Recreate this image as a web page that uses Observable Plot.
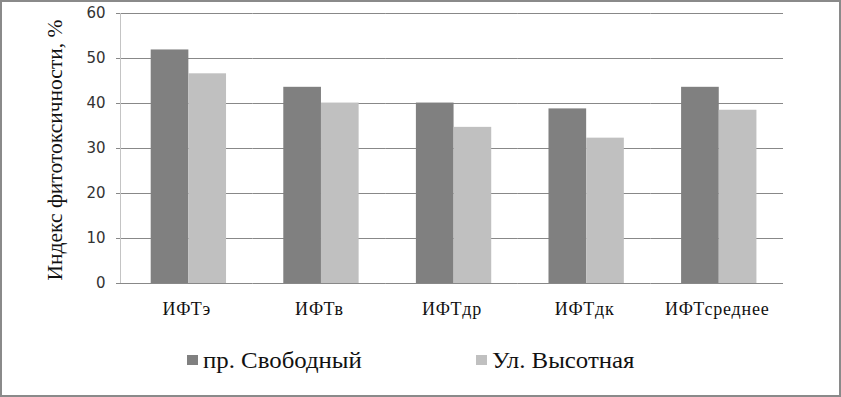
<!DOCTYPE html>
<html><head><meta charset="utf-8">
<script src="https://cdn.jsdelivr.net/npm/d3@7"></script>
<script src="https://cdn.jsdelivr.net/npm/@observablehq/plot@0.6"></script>
</head>
<body style="margin:0;padding:0;background:#fff;">
<div id="wrap" style="position:relative;width:841px;height:397px;overflow:hidden;background:#fff;">
  <div id="chart"></div>
  <div id="legend"></div>
  <div style="position:absolute;left:0;top:0;width:841px;height:397px;box-sizing:border-box;border:2px solid #8a8a8a;pointer-events:none;"></div>
</div>
<script>
const categories = ["ИФТэ","ИФТв","ИФТдр","ИФТдк","ИФТсреднее"];
const seriesNames = ["пр. Свободный","Ул. Высотная"];
const svobodny = [51.9, 43.6, 40.1, 38.8, 43.6];
const vysotnaya = [46.6, 40.1, 34.7, 32.3, 38.5];
const yTicks = [0,10,20,30,40,50,60];
const colors = ["#808080","#c0c0c0"];
const yTitle = "Индекс фитотоксичности, %";
const SERIF = "Liberation Serif";

const data = categories.flatMap((c,i)=>[
  {cat:c, series:seriesNames[0], value:svobodny[i]},
  {cat:c, series:seriesNames[1], value:vysotnaya[i]}
]);

const chart = Plot.plot({
  width: 841, height: 330,
  marginLeft: 120, marginRight: 58, marginTop: 13, marginBottom: 47,
  fx: {domain: categories, padding: 0, round: false, label: null},
  x: {domain: seriesNames, paddingInner: 0, paddingOuter: 0.76, align: 0.536, round: false, axis: null},
  y: {domain: [0, 60]},
  color: {domain: seriesNames, range: colors},
  style: {background: "transparent"},
  marks: [
    Plot.gridY(yTicks, {stroke: "#888", strokeOpacity: 1}),
    Plot.barY(data, {fx: "cat", x: "series", y: "value", fill: "series"}),
    Plot.axisY(yTicks, {tickSize: 4, tickPadding: 11, stroke: "#888", fontSize: 15, fontFamily: "DejaVu Sans", fill: "#333", label: null}),
    Plot.axisFx({anchor: "bottom", tickSize: 0, tickPadding: 19, fontSize: 18, fontFamily: SERIF, fill: "#111", label: null})
  ]
});
document.getElementById("chart").appendChild(chart);
d3.select(chart).selectAll("[aria-label='fx-axis tick label'] text").attr("letter-spacing", 0.8);

const svg = d3.select(chart);
const ys = chart.scale("y");
// y axis line at the left edge of the frame
svg.append("line")
  .attr("x1", 120.5).attr("x2", 120.5)
  .attr("y1", ys.apply(60)).attr("y2", ys.apply(0))
  .attr("stroke", "#c4c4c4");

// y axis title
svg.append("text")
  .attr("transform", `translate(62,${(ys.apply(60) + ys.apply(0)) / 2 + 2}) rotate(-90)`)
  .attr("text-anchor", "middle")
  .attr("font-family", SERIF)
  .attr("font-size", 21.5)
  .attr("fill", "#111")
  .text(yTitle);

// legend below the chart
const leg = d3.select("#legend").append("svg")
  .attr("width", 841).attr("height", 67)
  .style("display", "block")
  .attr("font-family", SERIF);
const legX = [187, 476];
seriesNames.forEach((s, i) => {
  const g = leg.append("g").attr("transform", `translate(${legX[i]},0)`);
  g.append("rect").attr("x", 0).attr("y", 25).attr("width", 11).attr("height", 10).attr("fill", colors[i]);
  g.append("text")
    .attr("transform", "translate(16,38) scale(1.08,1)")
    .attr("font-size", 23)
    .attr("fill", "#111")
    .text(s);
});
</script>
</body></html>
